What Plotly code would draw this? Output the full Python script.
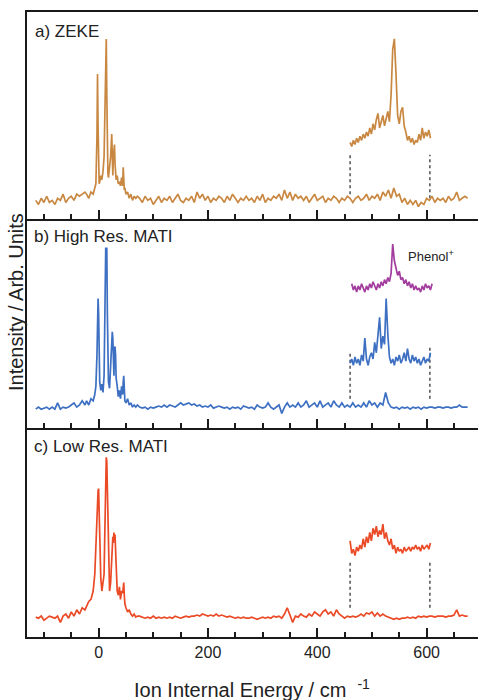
import plotly.graph_objects as go

# ---------------- data (cm-1, relative intensity per panel 0..1) ----------------
# sampling grids
x_lead = list(range(-115, -20, 5))          # 19 points
x_peak = [-22, -18, -14, -10, -7, -5, -3, -2, -1, 0, 1, 2, 4, 6, 8, 10, 11, 12, 13, 14,
          15, 16, 17, 18, 20, 22, 24, 25, 26, 27, 28, 29, 30, 31, 32, 34, 36, 38, 40, 42,
          44, 45, 46, 47, 48, 50, 53, 56, 59, 62, 65, 68, 71]
x_tail = list(range(75, 680, 5))            # 121 points
x_inset = list(range(460, 610, 3))          # 50 points
x_phenol = list(range(463, 613, 3))         # 50 points

# a) ZEKE
zeke_lead = [0.09, 0.07, 0.10, 0.08, 0.11, 0.08, 0.09, 0.07, 0.10, 0.09, 0.12, 0.08, 0.10,
             0.11, 0.09, 0.12, 0.11, 0.12, 0.13]
zeke_peak = [0.12, 0.10, 0.13, 0.12, 0.15, 0.17, 0.40, 0.70, 0.45, 0.22, 0.17, 0.18, 0.21, 0.19,
             0.23, 0.30, 0.45, 0.70, 0.80, 0.87, 0.60, 0.35, 0.22, 0.20, 0.24, 0.30, 0.41, 0.25,
             0.21, 0.30, 0.34, 0.36, 0.27, 0.22, 0.19, 0.21, 0.17, 0.18, 0.16, 0.20, 0.16, 0.25,
             0.17, 0.14, 0.15, 0.12, 0.13, 0.10, 0.12, 0.09, 0.11, 0.10, 0.11]
zeke_tail = [0.10, 0.08, 0.11, 0.09, 0.10, 0.07, 0.09, 0.11, 0.08, 0.10,
             0.09, 0.11, 0.08, 0.10, 0.12, 0.09, 0.08, 0.10, 0.09, 0.11,
             0.08, 0.13, 0.10, 0.12, 0.09, 0.11, 0.08, 0.10, 0.09, 0.11,
             0.10, 0.08, 0.11, 0.09, 0.12, 0.10, 0.08, 0.10, 0.09, 0.11,
             0.09, 0.10, 0.08, 0.11, 0.09, 0.12, 0.08, 0.10, 0.09, 0.11,
             0.10, 0.12, 0.09, 0.14, 0.10, 0.13, 0.09, 0.12, 0.10, 0.11,
             0.09, 0.11, 0.08, 0.10, 0.12, 0.09, 0.10, 0.11, 0.08, 0.10,
             0.09, 0.11, 0.10, 0.08, 0.10, 0.09, 0.11, 0.10, 0.08, 0.10,
             0.11, 0.09, 0.10, 0.12, 0.09, 0.11, 0.10, 0.12, 0.09, 0.13,
             0.11, 0.14, 0.10, 0.15, 0.11, 0.12, 0.08, 0.10, 0.07, 0.09,
             0.07, 0.09, 0.06, 0.08, 0.07, 0.10, 0.09, 0.11, 0.08, 0.10,
             0.09, 0.10, 0.08, 0.11, 0.09, 0.10, 0.13, 0.09, 0.10, 0.11,
             0.10]
zeke_inset = [0.37, 0.35, 0.38, 0.36, 0.39, 0.37, 0.40, 0.38, 0.41, 0.39,
              0.42, 0.40, 0.44, 0.41, 0.46, 0.43, 0.48, 0.51, 0.44, 0.47,
              0.50, 0.45, 0.48, 0.52, 0.47, 0.60, 0.82, 0.87, 0.70, 0.50,
              0.46, 0.52, 0.54, 0.45, 0.42, 0.38, 0.40, 0.37, 0.39, 0.36,
              0.38, 0.37, 0.41, 0.38, 0.44, 0.39, 0.42, 0.40, 0.43, 0.39]

# b) High Res. MATI
hr_lead = [0.09, 0.10, 0.09, 0.095, 0.10, 0.09, 0.10, 0.09, 0.12, 0.09, 0.10, 0.095, 0.10,
           0.11, 0.12, 0.10, 0.11, 0.13, 0.11]
hr_peak = [0.13, 0.11, 0.14, 0.13, 0.16, 0.20, 0.35, 0.58, 0.62, 0.55, 0.35, 0.22, 0.18, 0.21,
           0.17, 0.25, 0.45, 0.70, 0.86, 0.86, 0.86, 0.55, 0.30, 0.22, 0.19, 0.28, 0.40, 0.46,
           0.43, 0.30, 0.25, 0.38, 0.39, 0.35, 0.24, 0.20, 0.15, 0.18, 0.14, 0.20, 0.16, 0.22,
           0.25, 0.19, 0.13, 0.12, 0.14, 0.11, 0.12, 0.10, 0.11, 0.10, 0.11]
hr_tail = [0.10, 0.095, 0.10, 0.09, 0.10, 0.095, 0.10, 0.105, 0.10, 0.11,
           0.10, 0.11, 0.105, 0.10, 0.11, 0.12, 0.11, 0.115, 0.12, 0.11,
           0.115, 0.105, 0.11, 0.10, 0.105, 0.10, 0.11, 0.095, 0.10, 0.105,
           0.10, 0.095, 0.10, 0.09, 0.10, 0.095, 0.10, 0.09, 0.105, 0.10,
           0.095, 0.10, 0.09, 0.11, 0.10, 0.095, 0.10, 0.12, 0.10, 0.09,
           0.10, 0.11, 0.07, 0.10, 0.12, 0.10, 0.11, 0.10, 0.12, 0.10,
           0.11, 0.13, 0.10, 0.11, 0.12, 0.10, 0.13, 0.10, 0.11, 0.12,
           0.10, 0.13, 0.11, 0.10, 0.12, 0.10, 0.11, 0.10, 0.12, 0.10,
           0.11, 0.10, 0.12, 0.10, 0.13, 0.11, 0.12, 0.10, 0.12, 0.11,
           0.17, 0.12, 0.10, 0.095, 0.10, 0.09, 0.10, 0.095, 0.10, 0.09,
           0.10, 0.095, 0.10, 0.09, 0.10, 0.095, 0.10, 0.10, 0.095, 0.10,
           0.10, 0.095, 0.10, 0.10, 0.095, 0.10, 0.10, 0.11, 0.10, 0.10,
           0.10]
hr_inset = [0.31, 0.33, 0.30, 0.34, 0.31, 0.33, 0.30, 0.35, 0.32, 0.43,
            0.33, 0.30, 0.34, 0.36, 0.33, 0.41, 0.36, 0.45, 0.53, 0.38,
            0.44, 0.40, 0.62, 0.45, 0.34, 0.31, 0.33, 0.30, 0.34, 0.32,
            0.35, 0.31, 0.33, 0.36, 0.32, 0.38, 0.33, 0.31, 0.35, 0.32,
            0.34, 0.31, 0.33, 0.30, 0.32, 0.34, 0.31, 0.33, 0.32, 0.36]
phenol = [0.69, 0.66, 0.68, 0.65, 0.68, 0.66, 0.69, 0.67, 0.65, 0.68,
          0.66, 0.69, 0.67, 0.70, 0.68, 0.66, 0.69, 0.67, 0.70, 0.68,
          0.71, 0.69, 0.72, 0.70, 0.74, 0.88, 0.80, 0.76, 0.73, 0.75,
          0.71, 0.72, 0.69, 0.71, 0.68, 0.70, 0.67, 0.69, 0.66, 0.68,
          0.66, 0.67, 0.65, 0.68, 0.66, 0.69, 0.67, 0.68, 0.66, 0.69]

# c) Low Res. MATI
lr_lead = [0.095, 0.09, 0.10, 0.08, 0.09, 0.10, 0.095, 0.09, 0.10, 0.07, 0.10, 0.11, 0.09,
           0.12, 0.10, 0.13, 0.11, 0.14, 0.13]
lr_peak = [0.15, 0.17, 0.18, 0.22, 0.30, 0.45, 0.55, 0.62, 0.70, 0.71, 0.55, 0.40, 0.28, 0.22,
           0.26, 0.30, 0.45, 0.68, 0.82, 0.86, 0.84, 0.70, 0.45, 0.32, 0.22, 0.26, 0.36, 0.44,
           0.48, 0.45, 0.50, 0.47, 0.49, 0.42, 0.30, 0.22, 0.20, 0.24, 0.18, 0.22, 0.21, 0.25,
           0.26, 0.20, 0.16, 0.14, 0.12, 0.13, 0.11, 0.10, 0.11, 0.095, 0.10]
lr_tail = [0.10, 0.095, 0.09, 0.095, 0.09, 0.10, 0.09, 0.095, 0.09, 0.095,
           0.09, 0.095, 0.09, 0.10, 0.095, 0.09, 0.095, 0.10, 0.095, 0.10,
           0.10, 0.105, 0.10, 0.11, 0.105, 0.10, 0.105, 0.10, 0.11, 0.10,
           0.105, 0.10, 0.095, 0.10, 0.095, 0.09, 0.095, 0.09, 0.095, 0.09,
           0.09, 0.095, 0.09, 0.085, 0.09, 0.095, 0.09, 0.095, 0.09, 0.10,
           0.095, 0.10, 0.09, 0.11, 0.14, 0.10, 0.07, 0.10, 0.095, 0.11,
           0.10, 0.095, 0.11, 0.10, 0.12, 0.11, 0.10, 0.12, 0.13, 0.11,
           0.12, 0.10, 0.13, 0.11, 0.10, 0.09, 0.10, 0.095, 0.10, 0.095,
           0.10, 0.11, 0.10, 0.115, 0.11, 0.12, 0.10, 0.115, 0.10, 0.11,
           0.10, 0.095, 0.09, 0.085, 0.09, 0.085, 0.09, 0.09, 0.095, 0.09,
           0.095, 0.09, 0.10, 0.095, 0.10, 0.095, 0.10, 0.10, 0.095, 0.10,
           0.10, 0.10, 0.095, 0.10, 0.10, 0.105, 0.13, 0.10, 0.105, 0.10,
           0.10]
lr_inset = [0.46, 0.40, 0.42, 0.39, 0.43, 0.41, 0.44, 0.42, 0.47, 0.43,
            0.48, 0.45, 0.50, 0.46, 0.52, 0.49, 0.53, 0.48, 0.51, 0.49,
            0.54, 0.47, 0.50, 0.46, 0.44, 0.47, 0.42, 0.44, 0.40, 0.43,
            0.41, 0.42, 0.40, 0.43, 0.41, 0.42, 0.43, 0.41, 0.43, 0.42,
            0.44, 0.42, 0.43, 0.41, 0.44, 0.42, 0.43, 0.44, 0.42, 0.45]

# dotted connector guides (x position, y from, y to) per panel
guide_x = [460, 606]
guide_a = [(0.12, 0.31), (0.10, 0.31)]
guide_b = [(0.14, 0.36), (0.14, 0.39)]
guide_c = [(0.14, 0.36), (0.14, 0.36)]

panel_labels = ["a) ZEKE", "b) High Res. MATI", "c) Low Res. MATI"]
tick_vals = [0, 200, 400, 600]

# ---------------- styling ----------------
C_ZEKE = "#c98842"
C_HR = "#3d70c2"
C_LR = "#ea4a26"
C_PH = "#a23d9f"
AX = "#1a1a1a"
FONT = "Liberation Sans, Arial, sans-serif"

fig = go.Figure()

def line(x, y, color, xa, ya, width=1.7, dash=None):
    fig.add_trace(go.Scatter(x=x, y=y, mode="lines", xaxis=xa, yaxis=ya,
                             line=dict(color=color, width=width, dash=dash),
                             hoverinfo="skip", showlegend=False))

panels = [
    ("x3", "y3", zeke_lead + zeke_peak + zeke_tail, zeke_inset, C_ZEKE, guide_a),
    ("x2", "y2", hr_lead + hr_peak + hr_tail, hr_inset, C_HR, guide_b),
    ("x", "y", lr_lead + lr_peak + lr_tail, lr_inset, C_LR, guide_c),
]
x_main = x_lead + x_peak + x_tail
for xa, ya, ymain, yins, col, guides in panels:
    for gx, (g0, g1) in zip(guide_x, guides):
        line([gx, gx], [g0, g1], "#333333", xa, ya, width=1.3, dash="dot")
    line(x_main, ymain, col, xa, ya)
    line(x_inset, yins, col, xa, ya)
line(x_phenol, phenol, C_PH, "x2", "y2")

# domains in paper fraction (700 px tall, 478 px wide)
H = 700.0
W = 478.0
dom = {
    "a": [1 - 219 / H, 1 - 12 / H],
    "b": [1 - 428 / H, 1 - 219 / H],
    "c": [1 - 637 / H, 1 - 428 / H],
}
xdom = [27 / W, 1.0]
xr = [-131, 694]

def xaxis(anchor, labels, mirror=False):
    return dict(domain=xdom, range=xr, anchor=anchor, showline=True, linecolor=AX,
                linewidth=2, mirror=mirror, ticks="inside", ticklen=9, tickwidth=2,
                tickcolor=AX, tickmode="array", tickvals=tick_vals,
                showticklabels=labels, showgrid=False, zeroline=False,
                tickfont=dict(size=16, color="#222", family=FONT),
                minor=dict(dtick=50, tick0=0, ticks="inside", ticklen=5, tickwidth=1.5,
                           tickcolor=AX, showgrid=False))

def yaxis(d, anchor):
    return dict(domain=d, range=[0, 1], anchor=anchor, showline=True, linecolor=AX,
                linewidth=2, ticks="", showticklabels=False, showgrid=False, zeroline=False)

fig.update_layout(
    width=478, height=700,
    margin=dict(l=0, r=0, t=0, b=0),
    paper_bgcolor="white", plot_bgcolor="white",
    font=dict(family=FONT, color="#222"),
    xaxis=xaxis("y", True),
    xaxis2=xaxis("y2", False),
    xaxis3=xaxis("y3", False, mirror=True),
    yaxis=yaxis(dom["c"], "x"),
    yaxis2=yaxis(dom["b"], "x2"),
    yaxis3=yaxis(dom["a"], "x3"),
)

ann = [
    dict(text=panel_labels[0], x=33 / W, y=1 - 32 / H, xanchor="left", yanchor="middle", size=17),
    dict(text=panel_labels[1], x=32 / W, y=1 - 237 / H, xanchor="left", yanchor="middle", size=17),
    dict(text=panel_labels[2], x=32 / W, y=1 - 446 / H, xanchor="left", yanchor="middle", size=17),
    dict(text="Phenol<sup>+</sup>", x=406 / W, y=1 - 256 / H, xanchor="left", yanchor="middle", size=13),
    dict(text="Ion Internal Energy / cm&nbsp;&nbsp;<sup>-1</sup>", x=252 / W, y=1 - 688 / H,
         xanchor="center", yanchor="middle", size=20),
]
for a in ann:
    fig.add_annotation(text=a["text"], x=a["x"], y=a["y"], xref="paper", yref="paper",
                       xanchor=a["xanchor"], yanchor=a["yanchor"], showarrow=False,
                       font=dict(size=a["size"], family=FONT, color="#222"))
fig.add_annotation(text="Intensity / Arb. Units", x=16 / W, y=1 - 302 / H, xref="paper",
                   yref="paper", xanchor="center", yanchor="middle", textangle=-90,
                   showarrow=False, font=dict(size=20, family=FONT, color="#222"))

fig.write_html("out.html")
